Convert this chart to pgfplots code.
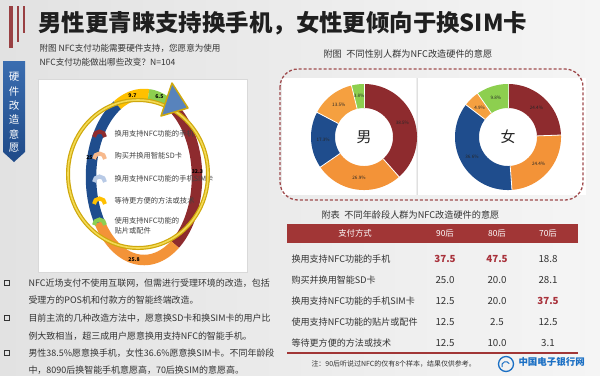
\documentclass[border=0pt]{standalone}
\usepackage{pgfplots}
\pgfplotsset{compat=1.18}
\usepackage{fontspec}
\setmainfont{Noto Sans CJK SC}

\definecolor{bg1}{HTML}{E2E2E2}
\definecolor{bg2}{HTML}{F5F5F5}
\definecolor{mred}{HTML}{8E2B2E}
\definecolor{morange}{HTML}{F39338}
\definecolor{mwait}{HTML}{F5A040}
\definecolor{mblue}{HTML}{1F4D8D}
\definecolor{mgreen}{HTML}{8DCF4F}
\definecolor{myellow}{HTML}{FFC000}
\definecolor{lpeach}{HTML}{F7B98C}
\definecolor{lblue}{HTML}{B8CAE6}
\definecolor{hdrred}{HTML}{A13636}
\definecolor{hired}{HTML}{A8303A}
\definecolor{txt}{HTML}{333333}
\definecolor{gold}{HTML}{CFA80C}
\definecolor{goldl}{HTML}{F3DA55}
\definecolor{tabtop}{HTML}{3A6DB0}
\definecolor{tabbot}{HTML}{1F4A88}
\definecolor{logoblue}{HTML}{1A6FC4}

% #1 entries value/colour, #2 rx, #3 ry, #4 ring width, #5 start angle, #6 label radius factor, #7 label suffix, #8 separator (1/0), #9 label style
\newcommand\ringchart[9]{%
  \gdef\cum{0}%
  \foreach \v/\c in {#1} {%
    \pgfmathsetmacro\a{#5-3.6*\cum}%
    \pgfmathsetmacro\b{#5-3.6*(\cum+\v)}%
    \pgfmathsetmacro\m{(\a+\b)/2}%
    \pgfmathsetmacro\lx{#6*#2*cos(\m)}%
    \pgfmathsetmacro\ly{#6*#3*sin(\m)}%
    \edef\tmp{\noexpand\addplot[draw=\c, line width=#4, domain=\a:\b, samples=80] ({#2*cos(x)},{#3*sin(x)});}%
    \tmp
    \ifnum#8=1
      \pgfmathsetmacro\ix{(#2-0.5*#4)*cos(\a)}%
      \pgfmathsetmacro\iy{(#3-0.5*#4)*sin(\a)}%
      \pgfmathsetmacro\ox{(#2+0.5*#4+1)*cos(\a)}%
      \pgfmathsetmacro\oy{(#3+0.5*#4+1)*sin(\a)}%
      \edef\tmp{\noexpand\addplot[draw=white, line width=0.8bp] coordinates {(\ix,\iy) (\ox,\oy)};}%
      \tmp
    \fi
    \edef\tmp{\noexpand\node[#9] at (axis cs:\lx,\ly) {\v\unexpanded{#7}};}%
    \tmp
    \pgfmathsetmacro\nc{\cum+\v}%
    \xdef\cum{\nc}%
  }%
}

\begin{document}
\begin{tikzpicture}[x=1bp,y=-1bp,
  seglabel/.style={font=\fontsize{4.6}{5}\selectfont, text=black!85},
  boldlabel/.style={font=\fontsize{5.2}{5}\bfseries\selectfont, text=black}]
\useasboundingbox (0,0) rectangle (600,375);
\shade[left color=bg1, right color=bg2] (0,0) rectangle (600,375);
\coordinate (cL) at (144,177);
\coordinate (cM) at (364,137);
\coordinate (cF) at (508,137);

% decorative bars and tab
\fill[mred!90] (9,6) rectangle (13,48);
\fill[mred!90] (16.5,6) rectangle (19,42);
\fill[mred!90] (22.5,6) rectangle (25,33);
\shade[top color=tabtop, bottom color=tabbot] (3,61) -- (25,61) -- (25,152) -- (14,162) -- (3,152) -- cycle;
\foreach \ch [count=\i] in {硬,件,改,造,意,愿}
  \node[text=white, font=\fontsize{10.5}{11}\selectfont] at (14,63+14.2*\i) {\ch};

% title
\node[anchor=west, font=\fontsize{23.5}{26}\bfseries\selectfont, text=black!88] at (35,23) {男性更青睐支持换手机，女性更倾向于换SIM卡};

% left panel
\node[anchor=west, font=\fontsize{8.6}{10}\selectfont, text=txt] at (36,48) {附图 NFC支付功能需要硬件支持，您愿意为使用};
\node[anchor=west, font=\fontsize{8.6}{10}\selectfont, text=txt] at (36,62) {NFC支付功能做出哪些改变？N=104};
\fill[white] (38,79) rectangle (247,272);
\draw[black!15] (38,79) rectangle (247,272);

\begin{axis}[at={(cL)}, anchor=center, scale only axis, width=160bp, height=200bp,
  xmin=-80, xmax=80, ymin=-100, ymax=100, hide axis, clip=false]
\ringchart{32.3/mred, 25.8/morange, 25.8/mblue, 9.7/myellow, 6.5/mgreen}{53}{83}{10.5bp}{62}{1.01}{}{0}{boldlabel}
\end{axis}

% legend of left chart
\foreach \yy/\cc in {137/mred, 159/lpeach, 182/lblue, 204/myellow, 225/mgreen}
  \draw[\cc, line width=4bp] (94,\yy) arc[start angle=180, end angle=360, radius=5.5];
\begin{scope}[every node/.style={anchor=west, font=\fontsize{7.3}{9}\selectfont, text=black!75}]
\node at (111,134) {换用支持NFC功能的手机};
\node at (111,156) {购买并换用智能SD卡};
\node at (111,179) {换用支持NFC功能的手机SIM卡};
\node at (111,201) {等待更方便的方法或技术};
\node at (111,221) {使用支持NFC功能的};
\node at (111,230.5) {贴片或配件};
\end{scope}
% overlay ring and arrow
\draw[gold, line width=4bp] (138,174) ellipse [x radius=70, y radius=74];
\draw[goldl, line width=1.6bp] (138,174) ellipse [x radius=70, y radius=74];
\draw[gold, line width=1.5bp, fill=tabtop!85, line join=round] (172,83) -- (188,108) -- (161,116) -- cycle;

% bullets
\begin{scope}[every node/.style={anchor=west, font=\fontsize{9}{10}\selectfont, text=black!80}]
\foreach \yy in {283,318,353} \draw[black!80, line width=1bp] (4.5,\yy-2.5) rectangle (9.5,\yy+2.5);
\node at (25,283) {NFC近场支付不使用互联网，但需进行受理环境的改造，包括};
\node at (25,300) {受理方的POS机和付款方的智能终端改造。};
\node at (25,318) {目前主流的几种改造方法中，愿意换SD卡和换SIM卡的用户比};
\node at (25,336) {例大致相当，超三成用户愿意换用支持NFC的智能手机。};
\node at (25,353) {男性38.5\%愿意换手机，女性36.6\%愿意换SIM卡。不同年龄段};
\node at (25,370) {中，8090后换智能手机意愿高，70后换SIM的意愿高。};
\end{scope}

% right top panel
\node[anchor=west, font=\fontsize{9.2}{10}\selectfont, text=txt] at (320,54) {附图\enspace 不同性别人群为NFC改造硬件的意愿};
\fill[white] (282,78) rectangle (416,195);
\fill[white] (418,78) rectangle (586,195);
\draw[black!12] (417,78) -- (417,195);
\draw[mred!85, line width=1.3bp, dash pattern=on 3bp off 2bp, rounded corners=18bp] (280,69) rectangle (583,200);

\begin{axis}[at={(cM)}, anchor=center, scale only axis, width=120bp, height=120bp,
  xmin=-60, xmax=60, ymin=-60, ymax=60, hide axis, clip=false]
\ringchart{38.5/mred, 26.9/morange, 17.3/mblue, 13.5/mwait, 3.8/mgreen}{41}{41}{24bp}{90}{1}{\%}{1}{seglabel}
\node[font=\fontsize{15}{16}\selectfont, text=black!85] at (axis cs:0,0) {男};
\end{axis}
\begin{axis}[at={(cF)}, anchor=center, scale only axis, width=120bp, height=120bp,
  xmin=-60, xmax=60, ymin=-60, ymax=60, hide axis, clip=false]
\ringchart{24.4/mred, 24.4/morange, 36.6/mblue, 4.9/mwait, 9.8/mgreen}{41}{41}{24bp}{90}{1}{\%}{1}{seglabel}
\node[font=\fontsize{15}{16}\selectfont, text=black!85] at (axis cs:0,0) {女};
\end{axis}

% table
\node[anchor=west, font=\fontsize{9.2}{10}\selectfont, text=txt] at (318,215) {附表\enspace 不同年龄段人群为NFC改造硬件的意愿};
\fill[hdrred] (287,224) rectangle (578,243);
\begin{scope}[every node/.style={font=\fontsize{8.4}{9}\selectfont, text=white}]
\node at (355,233.5) {支付方式};
\node at (445,233.5) {90后};
\node at (497,233.5) {80后};
\node at (548,233.5) {70后};
\end{scope}
\begin{scope}[lab/.style={anchor=west, font=\fontsize{9.1}{10}\selectfont, text=black!80},
              val/.style={font=\fontsize{9.8}{10}\selectfont, text=black!80},
              hv/.style={font=\fontsize{9.8}{10}\bfseries\selectfont, text=hired}]
\node[lab] at (288,259) {换用支持NFC功能的手机};
\node[hv] at (445,259) {37.5}; \node[hv] at (497,259) {47.5}; \node[val] at (548,259) {18.8};
\node[lab] at (288,280) {购买并换用智能SD卡};
\node[val] at (445,280) {25.0}; \node[val] at (497,280) {20.0}; \node[val] at (548,280) {28.1};
\node[lab] at (288,301) {换用支持NFC功能的手机SIM卡};
\node[val] at (445,301) {12.5}; \node[val] at (497,301) {20.0}; \node[hv] at (548,301) {37.5};
\node[lab] at (288,322) {使用支持NFC功能的贴片或配件};
\node[val] at (445,322) {12.5}; \node[val] at (497,322) {2.5}; \node[val] at (548,322) {12.5};
\node[lab] at (288,343) {等待更方便的方法或技术};
\node[val] at (445,343) {12.5}; \node[val] at (497,343) {10.0}; \node[val] at (548,343) {3.1};
\end{scope}
\draw[hdrred, line width=1.5bp] (287,353) -- (578,353);
\node[anchor=west, font=\fontsize{7}{8}\selectfont, text=black!80] at (308,364) {注：90后听说过NFC的仅有8个样本，结果仅供参考。};
% logo
\draw[logoblue, line width=1.3bp] (506,364) circle [radius=7.5];
\draw[logoblue, line width=1bp] (502,367) arc[start angle=160, end angle=330, radius=4];
\node[anchor=west, font=\fontsize{9.5}{10}\bfseries\selectfont, text=logoblue] at (515,362) {中国电子银行网};
\end{tikzpicture}
\end{document}
